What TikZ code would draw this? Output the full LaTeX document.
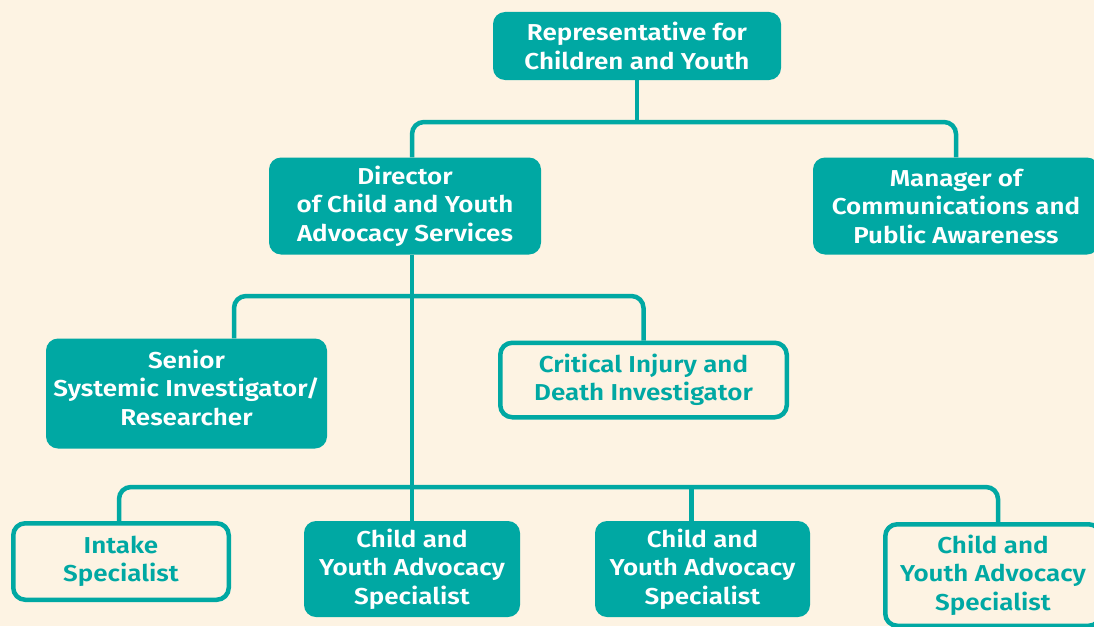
\documentclass[tikz,border=0pt]{standalone}
\usepackage{fontspec}
\setmainfont{Fira Sans}[BoldFont={Fira Sans SemiBold}, FakeStretch=1.13]
\usepackage{xcolor}
\usepackage{tikz}

\definecolor{rcyteal}{HTML}{00A8A3}
\definecolor{cream}{HTML}{FDF3E3}

\tikzset{
  box/.style={rounded corners=12pt, align=center, inner sep=0pt,
    font=\fontsize{23}{28.5}\selectfont\bfseries},
  fullbox/.style={box, fill=rcyteal, text=white},
  openbox/.style={box, draw=rcyteal, line width=4.5pt, fill=cream, text=rcyteal},
  link/.style={draw=rcyteal, line width=4.5pt, rounded corners=12pt}
}

\begin{document}
\begin{tikzpicture}[x=1pt, y=-1pt]
\useasboundingbox (0,0) rectangle (1094,626);
\fill[cream] (0,0) rectangle (1094,626);

% Top level
\node[fullbox, minimum width=288pt, minimum height=68pt] (rep) at (637,46) {Representative for\\Children and Youth};

% Second level
\node[fullbox, minimum width=272pt, minimum height=97pt] (dir) at (405,206) {Director\\of Child and Youth\\Advocacy Services};
\node[fullbox, minimum width=286pt, minimum height=97pt] (mgr) at (956,206) {Manager of\\Communications and\\Public Awareness};

% Investigators
\node[fullbox, minimum width=281pt, minimum height=110pt, text depth=12pt] (senior) at (186.5,393.5) {Senior\\Systemic Investigator/\\Researcher};
\node[openbox, minimum width=286.5pt, minimum height=74.5pt] (crit) at (643.5,380) {Critical Injury and\\Death Investigator};

% Bottom row
\node[openbox, minimum width=215.5pt, minimum height=76.5pt] (intake) at (121,561.5) {Intake\\Specialist};
\node[fullbox, minimum width=216pt, minimum height=96pt] (cya) at (412,569) {Child and\\Youth Advocacy\\Specialist};
\node[fullbox, minimum width=215pt, minimum height=96pt] (cyb) at (702.5,569) {Child and\\Youth Advocacy\\Specialist};
\node[openbox, minimum width=215.5pt, minimum height=101.5pt] (cyc) at (993,575) {Child and\\Youth Advocacy\\Specialist};

% Junctions
\coordinate (top) at (637,122);
\coordinate (mid) at (412,296);
\coordinate (low) at (412,487);

% Connectors
\draw[link] (rep.south) -- (rep.south |- top);
\draw[link] ([xshift=7pt]dir.north) |- (mgr.north |- top) -- (mgr.north);
\draw[link, rounded corners=0pt] ([xshift=7pt]dir.south) -- (cya.north);
\draw[link] ([xshift=47.5pt]senior.north) |- (crit.north |- mid) -- (crit.north);
\draw[link] ([xshift=-2pt]intake.north) |- ([xshift=5pt]cyc.north |- low) -- ([xshift=5pt]cyc.north);
\draw[link] ([xshift=-11pt]cyb.north) -- ([xshift=-11pt]cyb.north |- low);

\end{tikzpicture}
\end{document}
